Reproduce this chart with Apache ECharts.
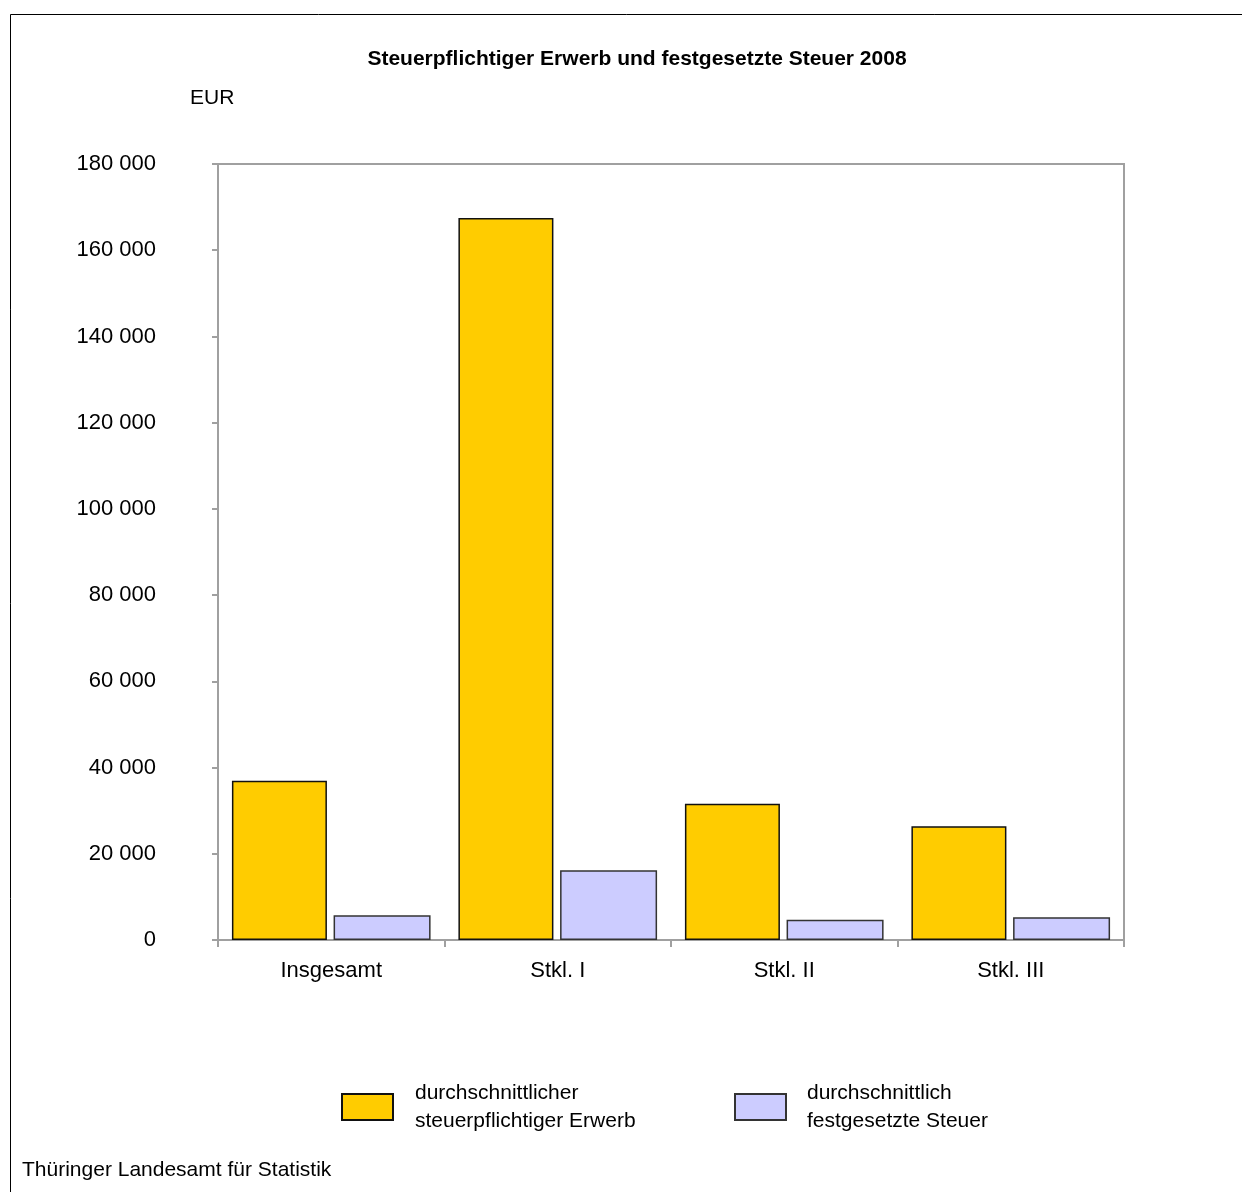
<!DOCTYPE html>
<html>
<head>
<meta charset="utf-8">
<title>Steuerpflichtiger Erwerb und festgesetzte Steuer 2008</title>
<script src="https://cdn.jsdelivr.net/npm/echarts@6/dist/echarts.min.js"></script>
<style>
  html, body { margin: 0; padding: 0; background: #fff; }
  #chart { width: 1242px; height: 1192px; }
</style>
</head>
<body>
<div id="chart"></div>
<script>
// Steuerklassen
const categories = ['Insgesamt', 'Stkl. I', 'Stkl. II', 'Stkl. III'];
// durchschnittlicher steuerpflichtiger Erwerb (EUR)
const erwerb = [36950, 167500, 31600, 26400];
// durchschnittlich festgesetzte Steuer (EUR)
const steuer = [5730, 16170, 4710, 5260];
// y-axis ticks
const yMin = 0, yMax = 180000, yStep = 20000;

const FONT = '"Liberation Sans", Arial, sans-serif';
const fmt = v => v === 0 ? '0' : String(v).replace(/\B(?=(\d{3})+(?!\d))/g, ' ');

const chart = echarts.init(document.getElementById('chart'), null, { renderer: 'canvas' });
chart.setOption({
  backgroundColor: '#fff',
  animation: false,
  textStyle: { fontFamily: FONT },
  title: {
    text: 'Steuerpflichtiger Erwerb und festgesetzte Steuer 2008',
    left: 632, top: 44, textAlign: 'center',
    textStyle: { fontSize: 21, fontWeight: 'bold', color: '#000', fontFamily: FONT }
  },
  grid: {
    left: 218, top: 164, width: 906, height: 776,
    show: true, borderColor: '#a0a0a0', borderWidth: 2, backgroundColor: 'transparent'
  },
  legend: [
    {
      data: [{ name: 'durchschnittlicher\nsteuerpflichtiger Erwerb', icon: 'rect' }],
      left: 336, top: 1069, itemWidth: 51, itemHeight: 26, itemGap: 0,
      selectedMode: false,
      textStyle: { fontSize: 21, color: '#000', lineHeight: 28, fontFamily: FONT, padding: [0, 0, 10, 17] }
    },
    {
      data: [{ name: 'durchschnittlich\nfestgesetzte Steuer', icon: 'rect' }],
      left: 729, top: 1069, itemWidth: 51, itemHeight: 26, itemGap: 0,
      selectedMode: false,
      textStyle: { fontSize: 21, color: '#000', lineHeight: 28, fontFamily: FONT, padding: [0, 0, 10, 16] }
    }
  ],
  xAxis: {
    type: 'category',
    data: categories,
    boundaryGap: true,
    axisLine: { lineStyle: { color: '#a0a0a0', width: 2 } },
    axisTick: { show: true, length: 7, lineStyle: { color: '#a0a0a0', width: 2 } },
    axisLabel: { color: '#000', fontSize: 22, margin: 20, fontFamily: FONT },
    splitLine: { show: false }
  },
  yAxis: {
    type: 'value',
    min: yMin, max: yMax, interval: yStep,
    axisLine: { show: true, lineStyle: { color: '#a0a0a0', width: 2 } },
    axisTick: { show: true, length: 6, lineStyle: { color: '#a0a0a0', width: 2 } },
    axisLabel: { color: '#000', fontSize: 22, margin: 62, formatter: fmt, fontFamily: FONT },
    splitLine: { show: false }
  },
  series: [
    {
      name: 'durchschnittlicher\nsteuerpflichtiger Erwerb',
      type: 'bar',
      data: erwerb,
      barWidth: 95,
      barGap: '7%',
      itemStyle: { color: '#ffcc00', borderColor: '#111', borderWidth: 1.5 }
    },
    {
      name: 'durchschnittlich\nfestgesetzte Steuer',
      type: 'bar',
      data: steuer,
      barWidth: 97,
      itemStyle: { color: '#ccccff', borderColor: '#333', borderWidth: 1.5 }
    }
  ],
  graphic: [
    {
      type: 'rect',
      shape: { x: 10.5, y: 14.5, width: 1260, height: 1200 },
      style: { fill: 'none', stroke: '#000', lineWidth: 1 },
      silent: true
    },
    {
      type: 'text', left: 190, top: 88,
      style: { text: 'EUR', fontSize: 21, fill: '#000', fontFamily: FONT }
    },
    {
      type: 'text', left: 22, top: 1160,
      style: { text: 'Thüringer Landesamt für Statistik', fontSize: 21, fill: '#000', fontFamily: FONT }
    }
  ]
});
</script>
</body>
</html>
